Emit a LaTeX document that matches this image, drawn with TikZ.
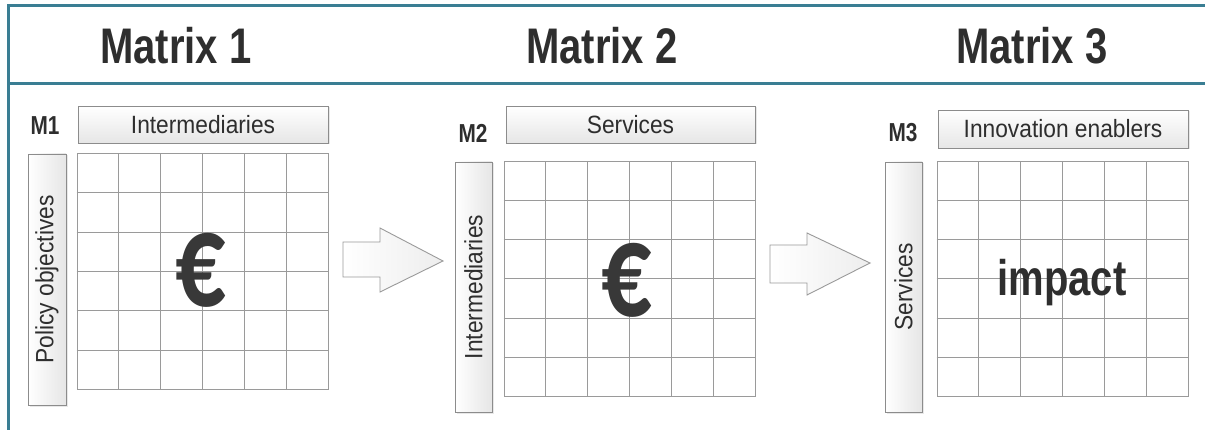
\documentclass[tikz,border=0pt]{standalone}
\usepackage{fontspec}
\setmainfont{Liberation Sans}
\newfontfamily\narrowfont[FakeStretch=0.91]{Liberation Sans}
\newfontfamily\titlefont[FakeStretch=0.8]{Liberation Sans}
\newfontfamily\eurofont[FakeStretch=0.74]{Carlito}
\usetikzlibrary{shadows,calc}
\definecolor{framec}{HTML}{3A7E93}
\definecolor{ink}{HTML}{2E2E2E}
\definecolor{gridc}{HTML}{9A9A9A}
\definecolor{boxb}{HTML}{8C8C8C}
\definecolor{boxlow}{HTML}{E6E6E6}
\begin{document}
\begin{tikzpicture}[x=1pt,y=-1pt,
  titletext/.style={font=\titlefont\bfseries\fontsize{50}{50}\selectfont, text=ink, inner sep=0pt},
  mlabel/.style={font=\titlefont\bfseries\fontsize{26}{26}\selectfont, text=ink, inner sep=0pt},
  hbox/.style={draw=boxb, line width=0.9pt, top color=white, bottom color=boxlow,
    drop shadow={shadow xshift=1.5pt, shadow yshift=-1.5pt, opacity=0.18},
    font=\narrowfont\fontsize{25}{25}\selectfont, text=ink, inner sep=0pt},
  vbox/.style={draw=boxb, line width=0.9pt, left color=white, right color=boxlow,
    drop shadow={shadow xshift=1.5pt, shadow yshift=-1.5pt, opacity=0.18}, inner sep=0pt},
  vtext/.style={rotate=90, font=\narrowfont\fontsize{25}{25}\selectfont, text=ink, inner sep=0pt},
  gridbox/.style={draw=gridc, line width=1pt, inner sep=0pt},
  gridline/.style={draw=gridc, line width=1pt},
  eurosign/.style={font=\eurofont\bfseries\fontsize{135}{135}\selectfont, text=ink!95, inner sep=0pt},
  bigword/.style={font=\titlefont\bfseries\fontsize{50}{50}\selectfont, text=ink, inner sep=0pt},
  blockarrow/.style={draw=gridc, line width=0.9pt, left color=white, right color=gray!14, line join=miter}
]
\useasboundingbox (0,0) rectangle (1205,430);
\fill[white] (0,0) rectangle (1205,430);

% frame
\draw[framec, line width=3pt] (1205,6) -- (8,6) -- (8,430);
\draw[framec, line width=3pt] (8,84) -- (1205,84);

% titles
\node[titletext, anchor=base] (t1) at (176,64) {Matrix 1};
\node[titletext, anchor=base] (t2) at (602,64) {Matrix 2};
\node[titletext, anchor=base] (t3) at (1032,64) {Matrix 3};

% labels
\node[mlabel] (m1) at (45,126) {M1};
\node[mlabel] (m2) at (473,133) {M2};
\node[mlabel] (m3) at (903,133) {M3};

% header boxes
\node[hbox, minimum width=250, minimum height=37] (h1) at (203,124.5) {Intermediaries};
\node[hbox, minimum width=249, minimum height=37] (h2) at (630.5,124.5) {Services};
\node[hbox, minimum width=250, minimum height=38] (h3) at (1063,129) {Innovation enablers};

% vertical boxes
\node[vbox, minimum width=38, minimum height=251] (v1) at (47,279.5) {};
\node[vtext] (v1t) at (v1.center) {Policy objectives};
\node[vbox, minimum width=37, minimum height=250] (v2) at (473.5,287) {};
\node[vtext] (v2t) at (v2.center) {Intermediaries};
\node[vbox, minimum width=37, minimum height=250] (v3) at (903.5,287) {};
\node[vtext] (v3t) at (v3.center) {Services};

% grids
\node[gridbox, minimum width=251, minimum height=235] (g1) at (202.5,271.5) {};
\node[gridbox, minimum width=251, minimum height=234] (g2) at (629.5,279) {};
\node[gridbox, minimum width=251, minimum height=234] (g3) at (1062.5,279) {};
\foreach \g in {g1,g2,g3}{
  \foreach \i in {1,...,5}{
    \draw[gridline] ($(\g.north west)!\i/6!(\g.north east)$) -- ($(\g.south west)!\i/6!(\g.south east)$);
    \draw[gridline] ($(\g.north west)!\i/6!(\g.south west)$) -- ($(\g.north east)!\i/6!(\g.south east)$);
  }
}

% grid contents
\node[eurosign] (e1) at (201,270) {€};
\node[eurosign] (e2) at (627,280) {€};
\node[bigword] (imp) at (1062,283) {impact};

% block arrows
\draw[blockarrow] (343,242) -- (380,242) -- (380,228) -- (443,261) -- (380,292) -- (380,277) -- (343,277) -- cycle;
\draw[blockarrow] (770,245) -- (807,245) -- (807,233) -- (870,263) -- (807,295) -- (807,283) -- (770,283) -- cycle;
\end{tikzpicture}
\end{document}
